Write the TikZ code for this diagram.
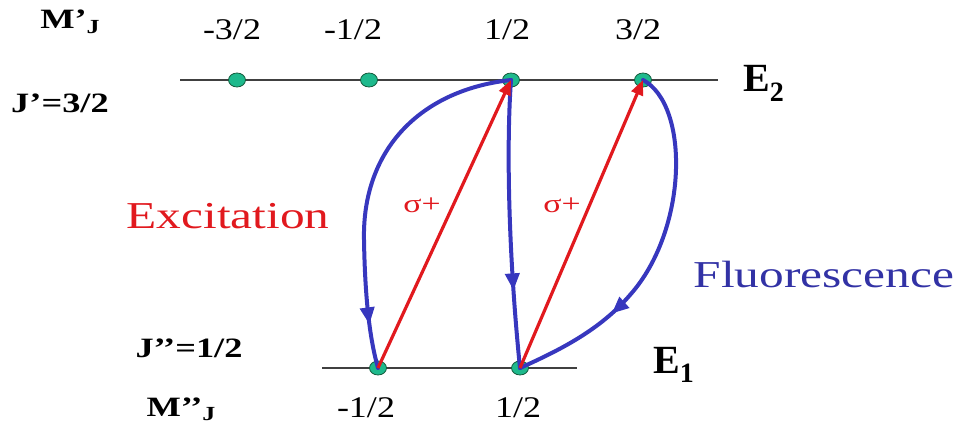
\documentclass[tikz,border=0pt]{standalone}
\usepackage{fontspec}
\setmainfont{Liberation Serif}
\usetikzlibrary{arrows.meta,decorations.markings,shapes.geometric}
\definecolor{dotgreen}{RGB}{30,185,140}
\definecolor{dotedge}{RGB}{20,90,60}
\definecolor{exred}{RGB}{225,25,30}
\definecolor{flblue}{RGB}{55,55,190}
\definecolor{fltext}{RGB}{50,50,165}
\newcommand{\wx}[2]{\scalebox{#1}[1]{#2}}
\tikzset{
  lvl/.style={line width=1.3pt, draw=black!75},
  dot/.style={ellipse, minimum width=17pt, minimum height=14pt, inner sep=0pt, fill=dotgreen, draw=dotedge, line width=0.8pt},
  exc/.style={draw=exred, line width=3.2pt, -{Triangle[length=15pt,width=12pt]}},
  fl/.style={draw=flblue, line width=4pt, line cap=round, postaction={decorate}},
  flmark/.style={decoration={markings, mark=at position #1 with {\arrow{Triangle[length=17pt,width=14pt]}}}},
  num/.style={font=\fontsize{30}{30}\selectfont, anchor=base, inner sep=0pt},
  bl/.style={font=\fontsize{28}{28}\selectfont\bfseries, anchor=base, inner sep=0pt},
  big/.style={font=\fontsize{40}{40}\selectfont\bfseries, anchor=base west, inner sep=0pt},
  sig/.style={font=\fontsize{26}{26}\selectfont, text=exred, anchor=base, inner sep=0pt},
}
\begin{document}
\begin{tikzpicture}[x=1pt,y=-1pt]
\useasboundingbox (0,0) rectangle (963,428);
% levels
\coordinate (tl) at (180,80);
\coordinate (tr) at (718,80);
\coordinate (bl1) at (322,368);
\coordinate (br1) at (577,368);
\draw[lvl] (tl) -- (tr);
\draw[lvl] (bl1) -- (br1);
% dots
\node[dot] (t1) at (237,80) {};
\node[dot] (t2) at (369,80) {};
\node[dot] (t3) at (511,80) {};
\node[dot] (t4) at (643,80) {};
\node[dot] (b1) at (378,368) {};
\node[dot] (b2) at (520,368) {};
% fluorescence curves
\draw[fl, flmark=0.88] (t3.center) .. controls (420,90) and (362,150) .. (364,240) .. controls (365,300) and (370,340) .. (b1.center);
\draw[fl, flmark=0.73] (t3.center) .. controls (506,150) and (509,260) .. (b2.center);
\draw[fl, flmark=0.71] (t4.center) .. controls (690,105) and (688,230) .. (630,295) .. controls (600,330) and (560,350) .. (b2.center);
% excitation
\draw[exc] (b1.center) -- (t3.center);
\draw[exc] (b2.center) -- (t4.center);
% labels
\node[bl] (mj) at (70,29) {\wx{1.3}{M’\raisebox{-0.35ex}{\fontsize{20}{20}\selectfont J}}};
\node[num] (m1) at (232,40) {\wx{1.2}{-3/2}};
\node[num] (m2) at (353,40) {\wx{1.2}{-1/2}};
\node[num] (m3) at (507,40) {\wx{1.2}{1/2}};
\node[num] (m4) at (638,40) {\wx{1.2}{3/2}};
\node[bl] (jp) at (60,112) {\wx{1.3}{J’=3/2}};
\node[bl] (jpp) at (189,357) {\wx{1.3}{J’’=1/2}};
\node[bl] (mjj) at (181,416) {\wx{1.3}{M’’\raisebox{-0.35ex}{\fontsize{20}{20}\selectfont J}}};
\node[num] (n1) at (366,417) {\wx{1.2}{-1/2}};
\node[num] (n2) at (518,417) {\wx{1.2}{1/2}};
\node[big] (e2) at (743,92) {E\raisebox{-0.5ex}{\fontsize{28}{28}\selectfont 2}};
\node[big] (e1) at (653,373) {E\raisebox{-0.5ex}{\fontsize{28}{28}\selectfont 1}};
\node[font=\fontsize{38}{38}\selectfont, text=exred, anchor=base, inner sep=0pt] (ex) at (228,228) {\wx{1.3}{Excitation}};
\node[font=\fontsize{38}{38}\selectfont, text=fltext, anchor=base, inner sep=0pt] (fo) at (824,287) {\wx{1.3}{Fluorescence}};
\node[sig] (s1) at (422,212) {\wx{1.3}{σ+}};
\node[sig] (s2) at (562,212) {\wx{1.3}{σ+}};
\end{tikzpicture}
\end{document}
